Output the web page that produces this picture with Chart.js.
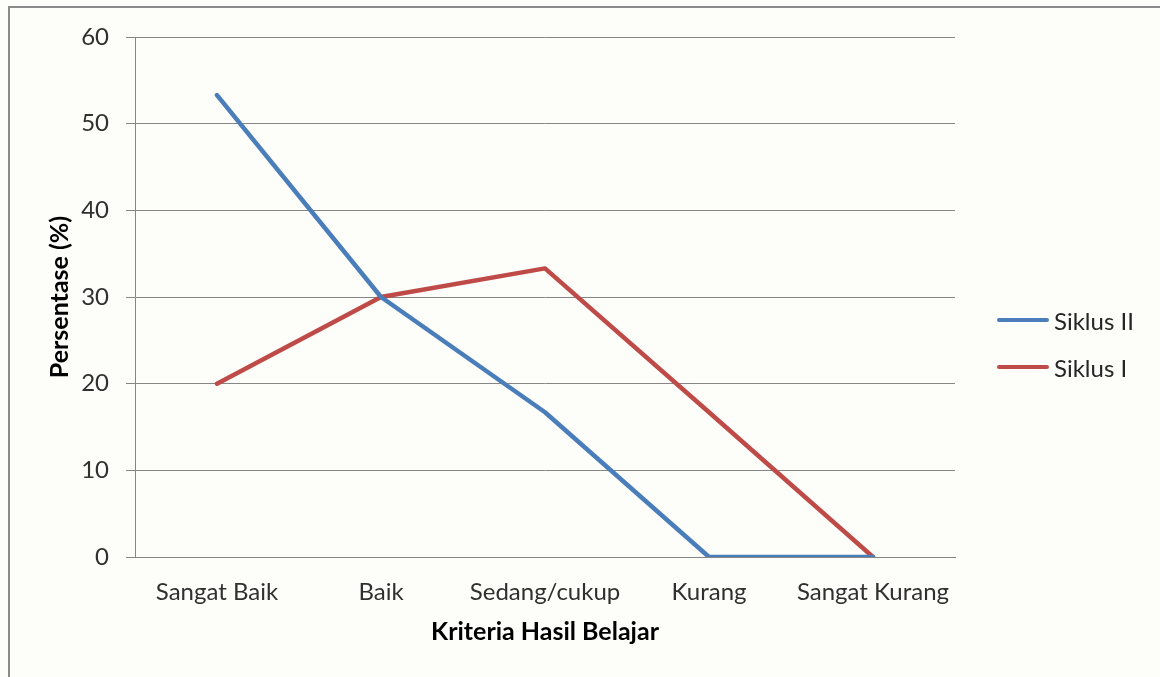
<!DOCTYPE html>
<html>
<head>
<meta charset="utf-8">
<script src="https://cdn.jsdelivr.net/npm/chart.js@4"></script>
<style>
    html, body { margin: 0; padding: 0; background: #fdfdf9; }
    #wrap { position: relative; width: 1160px; height: 677px; overflow: hidden; }
    #chart { position: absolute; left: 0; top: 0; }
    #frame {
        position: absolute; left: 8px; top: 6px; right: -10px; bottom: -10px;
        border-top: 2px solid #8a8a8a; border-left: 2px solid #8a8a8a;
        pointer-events: none;
    }
    #legend { position: absolute; left: 997px; top: 302px; font-family: Lato, sans-serif; font-size: 24px; color: #262626; }
    .leg-item { display: flex; align-items: center; height: 36px; margin-bottom: 11px; }
    .leg-line { width: 52px; height: 4px; border-radius: 2px; margin-right: 5px; }
</style>
</head>
<body>
<div id="wrap">
    <canvas id="chart" width="1160" height="677"></canvas>
    <div id="frame"></div>
    <div id="legend"></div>
</div>
<script>
// Data
const categories = ['Sangat Baik', 'Baik', 'Sedang/cukup', 'Kurang', 'Sangat Kurang'];
const siklus2 = [53.3, 30, 16.7, 0, 0];
const siklus1 = [20, 30, 33.3, 16.7, 0];
const yTicks = [0, 10, 20, 30, 40, 50, 60];

const getEl = (id) => document.getElementById(id);

const gridGray = '#868686';
const tickFont = { family: 'Lato', size: 24 };
const titleFont = { family: 'Lato', size: 25, weight: 'bold' };

const chart = new Chart(getEl('chart').getContext('2d'), {
    type: 'line',
    data: {
        labels: categories,
        datasets: [
            {
                label: 'Siklus II',
                data: siklus2,
                borderColor: '#4a7ebb',
                borderWidth: 4.5,
                pointRadius: 0,
                tension: 0,
                borderJoinStyle: 'round',
                borderCapStyle: 'round'
            },
            {
                label: 'Siklus I',
                data: siklus1,
                borderColor: '#be4b48',
                borderWidth: 4.5,
                pointRadius: 0,
                tension: 0,
                borderJoinStyle: 'round',
                borderCapStyle: 'round'
            }
        ]
    },
    options: {
        responsive: false,
        animation: false,
        layout: { padding: { left: 0, right: 205, top: 37, bottom: 0 } },
        plugins: {
            legend: { display: false },
            tooltip: { enabled: false }
        },
        scales: {
            x: {
                offset: true,
                grid: { display: false },
                border: { display: true, color: gridGray, width: 1 },
                ticks: { font: tickFont, color: '#303030', padding: 13, maxRotation: 0, autoSkip: false },
                title: {
                    display: true,
                    text: 'Kriteria Hasil Belajar',
                    font: titleFont,
                    color: '#000',
                    padding: { top: 0, bottom: 30 }
                },
                afterFit: (scale) => { scale.height = 120; }
            },
            y: {
                min: 0,
                max: 60,
                afterBuildTicks: (scale) => { scale.ticks = yTicks.map(v => ({ value: v })); },
                grid: { color: gridGray, lineWidth: 1, tickLength: 9, drawTicks: true },
                border: { display: true, color: gridGray, width: 1 },
                ticks: { font: tickFont, color: '#303030', padding: 17 },
                title: {
                    display: true,
                    text: 'Persentase (%)',
                    font: titleFont,
                    color: '#000',
                    padding: { top: 45, bottom: 0 }
                },
                afterFit: (scale) => { scale.width = 135; }
            }
        }
    }
});

// Legend built from the datasets
const legendBox = getEl('legend');
chart.data.datasets.forEach((ds) => {
    const item = document.createElement('div');
    item.className = 'leg-item';
    item.innerHTML = `<span class="leg-line" style="background:${ds.borderColor}"></span><span>${ds.label}</span>`;
    legendBox.appendChild(item);
});
</script>
</body>
</html>
